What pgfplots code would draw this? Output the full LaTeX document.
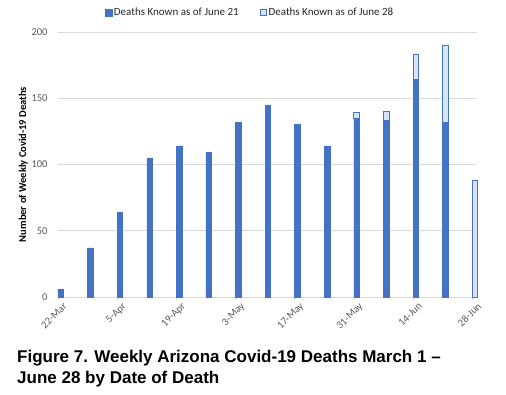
\documentclass[border=0pt]{standalone}
\usepackage{pgfplots}
\pgfplotsset{compat=1.18}
\usepackage{pgfplotstable}
\usepackage{fontspec}
\setmainfont{Carlito}
\newfontfamily\arialfont{Liberation Sans}
\definecolor{barblue}{HTML}{4472C4}
\definecolor{barlight}{HTML}{DAE3F3}
\definecolor{gridgray}{HTML}{D9D9D9}
\definecolor{ticktext}{HTML}{595959}
\pgfplotstableread{
x  d21 add28
0  6   0
1  37  0
2  64  0
3  105 0
4  114 0
5  109 0
6  132 0
7  145 0
8  130 0
9  114 0
10 135 4
11 133 7
12 164 19
13 132 58
14 0   88
}\deaths
\begin{document}
\begin{tikzpicture}[x=1pt,y=1pt]
\path[use as bounding box] (-58,-97) rectangle (448,297);
\begin{axis}[
  at={(0,0)}, anchor=south west,
  scale only axis, width=419pt, height=265pt,
  ybar stacked, bar width=5.5pt, bar shift=2.75pt,
  xmin=0, xmax=14.16, ymin=0, ymax=200,
  xtick={0,2,...,14},
  xticklabels={22-Mar,5-Apr,19-Apr,3-May,17-May,31-May,14-Jun,28-Jun},
  ytick={0,50,...,200},
  /pgf/number format/assume math mode=true,
  axis y line*=left, axis x line*=bottom,
  y axis line style={draw=none},
  x axis line style={draw=gridgray, line width=0.8pt},
  ymajorgrids, grid style={gridgray, line width=0.8pt},
  ytick style={draw=none},
  xtick style={draw=gridgray, line width=0.6pt},
  xtick pos=bottom, tick align=outside, major tick length=3pt,
  every tick label/.append style={font=\fontsize{10.5}{12.5}\selectfont, text=ticktext},
  xticklabel style={rotate=45, anchor=north east, inner sep=1pt, xshift=3pt, yshift=-3.5pt},
  yticklabel style={xshift=-4pt},
  ylabel={\textbf{Number of Weekly Covid-19 Deaths}},
  ylabel style={at={(axis description cs:-0.083,0.5)}, anchor=center, font=\fontsize{10.5}{12.5}\selectfont},
  legend columns=2,
  legend style={at={(axis description cs:0.458,1.072)}, anchor=center, draw=none,
    font=\fontsize{11}{13}\selectfont, text=black!85,
    /tikz/every odd column/.append style={column sep=0pt},
    /tikz/every even column/.append style={column sep=20pt},
    nodes={inner sep=1.5pt}},
  clip=false,
]
\addplot+[fill=barblue, draw=barblue, line width=0.5pt,
  legend image code/.code={\draw[fill=barblue,draw=barblue] (0pt,-3.5pt) rectangle (7pt,3.5pt);}]
  table[x=x, y=d21] {\deaths};
\addplot+[fill=barlight, draw=barblue, line width=0.9pt,
  legend image code/.code={\draw[fill=barlight,draw=barblue,line width=0.9pt] (0.5pt,-3pt) rectangle (6.5pt,3pt);}]
  table[x=x, y=add28] {\deaths};
\legend{Deaths Known as of June 21, Deaths Known as of June 28}
\end{axis}
\node[anchor=north west, inner sep=0pt, align=left, font=\arialfont\bfseries\fontsize{17}{20.8}\selectfont]
  at (-41,-53) {Figure 7. Weekly Arizona Covid-19 Deaths March 1 –\\June 28 by Date of Death};
\end{tikzpicture}
\end{document}
